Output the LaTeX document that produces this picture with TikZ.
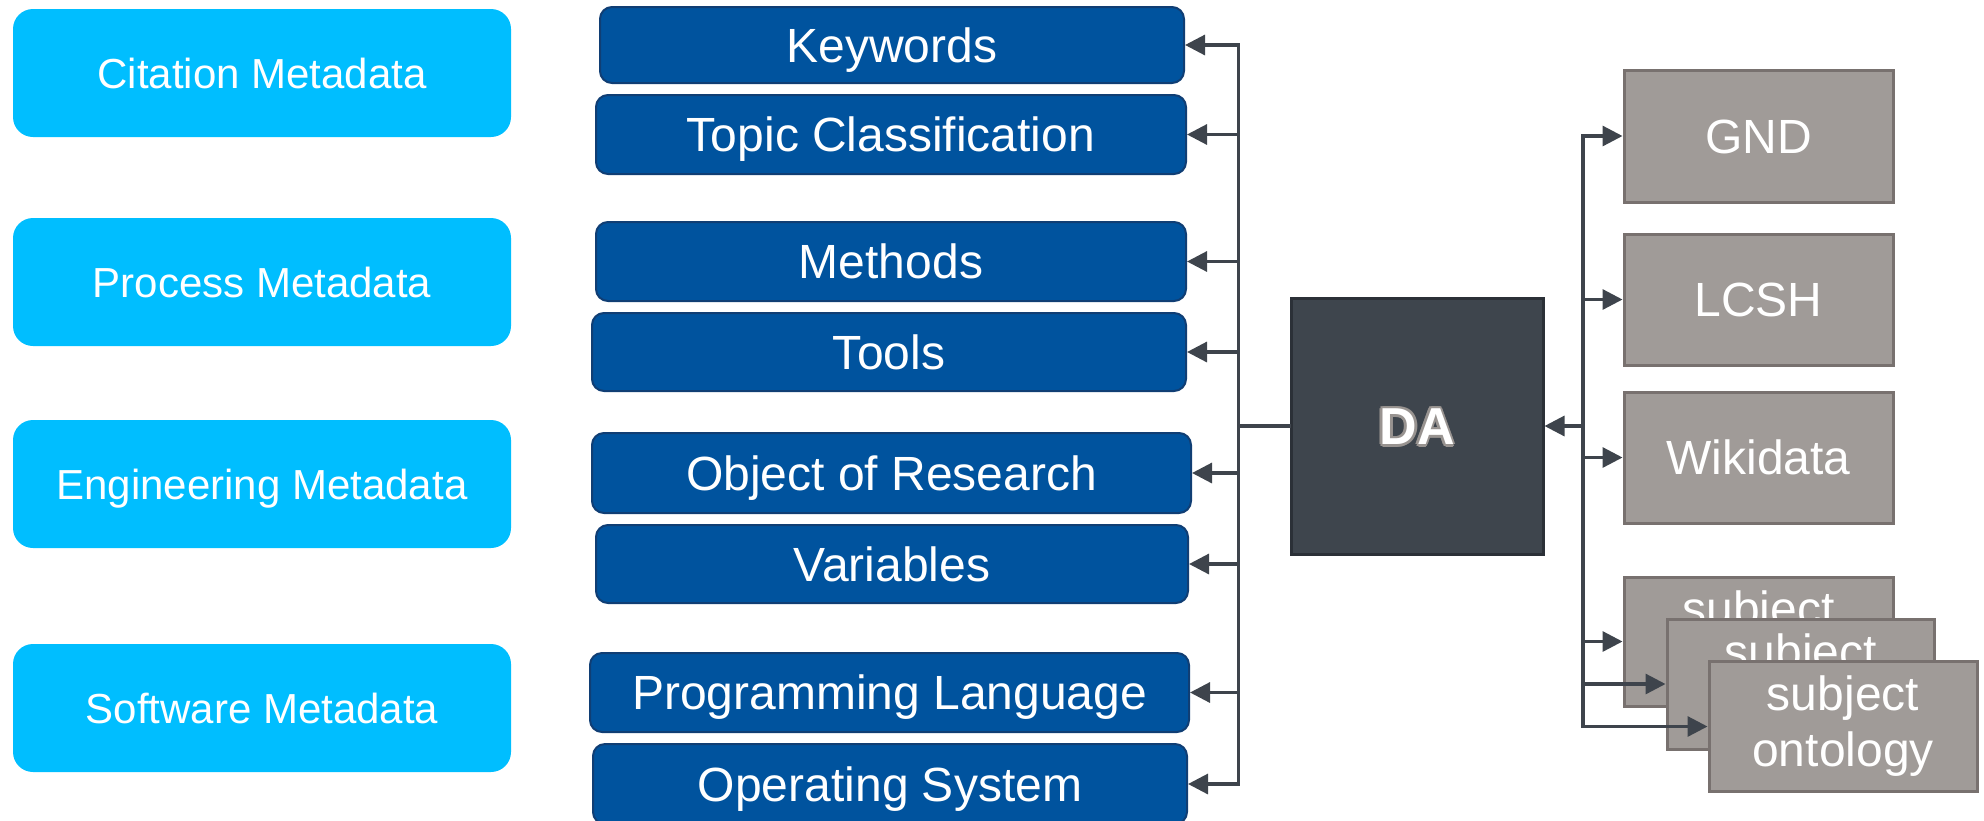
\documentclass[tikz,border=0pt]{standalone}
\usepackage{fontspec}
\setmainfont{Liberation Sans}
\usetikzlibrary{arrows.meta}
\definecolor{cyanfill}{RGB}{0,190,255}
\definecolor{bluefill}{RGB}{0,83,158}
\definecolor{blueborder}{RGB}{16,62,116}
\definecolor{dafill}{RGB}{62,69,77}
\definecolor{daborder}{RGB}{43,48,55}
\definecolor{grayfill}{RGB}{160,155,152}
\definecolor{grayborder}{RGB}{120,113,111}
\definecolor{connc}{RGB}{62,68,76}
\definecolor{haloc}{RGB}{152,147,144}
\newcommand\outlinetext[1]{{\setbox0\hbox{#1}%
 \color{haloc}%
 \rlap{\kern1.3pt\copy0}\rlap{\kern-1.3pt\copy0}\rlap{\raise1.3pt\copy0}\rlap{\lower1.3pt\copy0}%
 \rlap{\kern0.9pt\raise0.9pt\copy0}\rlap{\kern-0.9pt\raise0.9pt\copy0}%
 \rlap{\kern0.9pt\lower0.9pt\copy0}\rlap{\kern-0.9pt\lower0.9pt\copy0}%
 \color{white}\copy0}}
\tikzset{
 catbox/.style={fill=cyanfill, rounded corners=10pt, minimum width=249pt, minimum height=64pt,
   inner sep=0pt, text=white, font=\fontsize{21pt}{25pt}\selectfont, text height=15pt, text depth=0pt},
 fieldbox/.style={fill=bluefill, draw=blueborder, line width=1pt, rounded corners=6pt, inner sep=0pt,
   text=white, font=\fontsize{24pt}{29pt}\selectfont, text height=17.2pt, text depth=0pt},
 dabox/.style={fill=dafill, draw=daborder, line width=1.5pt, minimum width=126pt, minimum height=128pt,
   inner sep=0pt, font=\bfseries\fontsize{26pt}{30pt}\selectfont, text height=18.6pt, text depth=0pt},
 vocabbase/.style={fill=grayfill, draw=grayborder, line width=1.5pt, inner sep=0pt, text=white},
 vocab/.style={vocabbase, minimum width=134.5pt, font=\fontsize{24pt}{29pt}\selectfont,
   text height=17.2pt, text depth=0pt},
 subj/.style={vocabbase, align=center, font=\fontsize{24pt}{28pt}\selectfont},
 conn/.style={draw=connc, line width=1.6pt, line cap=rect},
 arr/.style={conn, -{Triangle[length=10pt,width=10pt]}},
}
\begin{document}
\begin{tikzpicture}[x=0.5pt,y=-0.5pt]
\useasboundingbox (0,0) rectangle (1984,820);

% category boxes
\node[catbox] (cit) at (262,73) {Citation Metadata};
\node[catbox] (proc) at (262,282) {Process Metadata};
\node[catbox] (eng) at (262,484) {Engineering Metadata};
\node[catbox] (soft) at (262,708) {Software Metadata};

% field boxes
\node[fieldbox, minimum width=292pt, minimum height=38pt] (kw) at (892,45) {Keywords};
\node[fieldbox, minimum width=295pt, minimum height=39.5pt] (topic) at (891,134.5) {Topic Classification};
\node[fieldbox, minimum width=295pt, minimum height=39.5pt] (meth) at (891,261.5) {Methods};
\node[fieldbox, minimum width=297pt, minimum height=39pt] (tools) at (889,352) {Tools};
\node[fieldbox, minimum width=299.5pt, minimum height=40pt] (obj) at (891.5,473) {Object of Research};
\node[fieldbox, minimum width=296pt, minimum height=39pt] (var) at (892,564) {Variables};
\node[fieldbox, minimum width=299.5pt, minimum height=39.5pt] (prog) at (889.5,692.5) {Programming Language};
\node[fieldbox, minimum width=297pt, minimum height=40pt] (os) at (890,784) {Operating System};

% central node
\node[dabox] (DA) at (1417,426) {\outlinetext{DA}};

% vocabularies
\node[vocab, minimum height=66pt] (gnd) at (1758.5,136) {GND};
\node[vocab, minimum height=65.5pt] (lcsh) at (1758.5,299.5) {LCSH};
\node[vocab, minimum height=65.5pt] (wiki) at (1758.5,457.5) {Wikidata};
\node[subj, minimum width=134.5pt, minimum height=64.5pt] (sub1) at (1758.5,641.5) {subject\\ontology};
\node[subj, minimum width=133.75pt, minimum height=65pt] (sub2) at (1800.75,684) {subject\\ontology};
\node[subj, minimum width=134pt, minimum height=65pt] (sub3) at (1843,726.5) {subject\\ontology};

% left connectors
\coordinate (lbus) at (1238.5,426);
\draw[conn] (DA.west) -- (lbus);
\draw[conn] (lbus |- kw.east) -- (lbus |- os.east);
\foreach \n in {kw,topic,meth,tools,obj,var,prog,os}
  \draw[arr] (lbus |- \n.east) -- (\n.east);

% right connectors
\coordinate (rbus) at (1583,426);
\draw[arr] (rbus) -- (DA.east);
\draw[conn] (rbus |- gnd.west) -- (rbus |- sub3.west);
\foreach \n in {gnd,lcsh,wiki,sub1,sub2,sub3}
  \draw[arr] (rbus |- \n.west) -- (\n.west);
\end{tikzpicture}
\end{document}
